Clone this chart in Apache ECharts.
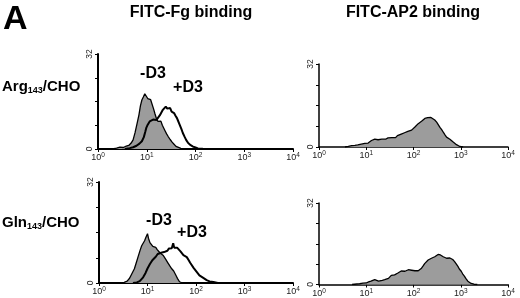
<!DOCTYPE html>
<html><head><meta charset="utf-8">
<script src="https://cdn.jsdelivr.net/npm/echarts@6/dist/echarts.min.js"></script>
<style>html,body{margin:0;padding:0;background:#fff}#c{width:520px;height:298px}</style>
</head><body><div id="c"></div>
<script>
// x values are log10 of fluorescence (decades 10^0..10^4), y values are counts (0..32)
const xTicks = [0, 1, 2, 3, 4];
const yTickLabels = [0, 32];
const panelTitles = ['FITC-Fg binding', 'FITC-AP2 binding'];
const rowLabels = [['Arg', '143', '/CHO'], ['Gln', '143', '/CHO']];

const argFgMinus = [[0.30,0],[0.38,0.3],[0.45,0.6],[0.52,0.5],[0.58,1.0],[0.63,1.2],[0.68,2.0],[0.72,3.1],[0.76,5.5],[0.80,8.5],[0.84,11.5],[0.87,14.5],[0.90,16.5],[0.93,17.5],[0.96,18.6],[0.99,18.2],[1.02,17.0],[1.05,17.4],[1.08,16.6],[1.11,16.0],[1.14,13.5],[1.17,11.8],[1.20,10.2],[1.23,9.3],[1.26,9.6],[1.29,9.4],[1.32,8.0],[1.35,7.0],[1.38,6.0],[1.41,5.0],[1.44,4.2],[1.48,3.2],[1.52,2.3],[1.56,1.6],[1.60,0.9],[1.64,0.5],[1.70,0.2],[1.78,0]];
const argFgPlus = [[0.55,0],[0.65,0.3],[0.72,0.6],[0.79,1.1],[0.85,1.8],[0.90,2.6],[0.94,4.0],[0.97,5.8],[0.99,7.1],[1.02,8.2],[1.06,9.3],[1.09,9.0],[1.13,9.9],[1.17,10.2],[1.20,9.8],[1.23,10.4],[1.27,11.4],[1.30,11.8],[1.33,13.2],[1.36,13.8],[1.39,14.3],[1.42,13.6],[1.45,13.2],[1.48,13.8],[1.51,12.6],[1.53,13.0],[1.56,12.1],[1.59,11.2],[1.62,10.4],[1.64,9.6],[1.67,8.4],[1.71,6.8],[1.74,5.4],[1.78,4.0],[1.81,3.0],[1.85,2.0],[1.90,1.3],[1.95,0.8],[2.00,0.5],[2.05,0.2],[2.15,0.1],[2.3,0]];
const glnFgMinus = [[0.45,0],[0.52,0.2],[0.58,0.6],[0.63,1.5],[0.68,3.0],[0.73,4.5],[0.77,6.5],[0.81,8.5],[0.85,10.5],[0.88,11.8],[0.91,12.6],[0.94,13.4],[0.97,14.6],[1.00,15.6],[1.02,14.2],[1.05,12.8],[1.08,13.2],[1.11,11.6],[1.14,11.0],[1.17,11.3],[1.20,10.6],[1.23,10.0],[1.26,9.5],[1.29,9.2],[1.32,8.8],[1.35,8.2],[1.38,7.4],[1.42,6.4],[1.46,5.4],[1.50,4.5],[1.54,3.8],[1.58,2.6],[1.62,1.4],[1.66,0.4],[1.72,0]];
const glnFgPlus = [[0.70,0],[0.78,0.2],[0.84,0.6],[0.91,1.8],[0.96,3.2],[1.00,4.6],[1.05,6.0],[1.10,7.2],[1.14,7.8],[1.17,8.3],[1.21,9.2],[1.24,9.3],[1.28,9.6],[1.31,9.9],[1.34,9.8],[1.38,10.4],[1.41,10.2],[1.44,10.9],[1.47,10.6],[1.50,11.0],[1.53,12.6],[1.55,11.2],[1.58,11.6],[1.61,11.2],[1.64,10.8],[1.68,10.0],[1.71,9.6],[1.74,8.8],[1.78,8.6],[1.81,8.2],[1.85,7.2],[1.88,6.4],[1.91,5.8],[1.95,4.8],[1.99,4.0],[2.03,3.2],[2.07,2.4],[2.11,2.2],[2.15,1.6],[2.19,1.4],[2.22,0.9],[2.28,0.5],[2.36,0.3],[2.45,0]];
const argAp2 = [[0.55,0],[0.62,0.2],[0.69,0.5],[0.76,0.6],[0.82,0.8],[0.86,0.9],[0.92,1.2],[0.97,1.4],[1.00,1.6],[1.04,1.5],[1.08,2.2],[1.11,2.5],[1.15,2.4],[1.18,3.0],[1.21,3.1],[1.25,2.8],[1.29,3.3],[1.33,3.0],[1.37,3.2],[1.41,3.0],[1.46,3.5],[1.50,3.3],[1.54,3.6],[1.58,3.9],[1.62,3.6],[1.66,4.4],[1.70,4.3],[1.74,5.0],[1.78,4.6],[1.81,5.5],[1.85,5.3],[1.88,6.0],[1.92,5.8],[1.96,6.5],[2.00,6.9],[2.03,7.7],[2.07,8.4],[2.10,9.0],[2.14,9.4],[2.17,9.9],[2.21,10.3],[2.24,11.0],[2.27,11.5],[2.30,11.3],[2.34,11.9],[2.37,11.4],[2.41,11.1],[2.45,10.4],[2.49,9.6],[2.52,8.9],[2.56,7.6],[2.60,6.6],[2.63,5.7],[2.67,4.6],[2.70,3.8],[2.73,3.5],[2.77,3.0],[2.81,2.4],[2.84,1.9],[2.88,1.3],[2.91,0.9],[2.95,0.5],[2.98,0.2],[3.05,0]];
const glnAp2 = [[0.70,0],[0.80,0.2],[0.86,0.3],[0.93,0.5],[1.00,0.6],[1.05,1.0],[1.10,1.3],[1.14,1.2],[1.18,1.9],[1.22,1.5],[1.26,1.3],[1.30,1.4],[1.34,1.6],[1.39,1.9],[1.43,2.0],[1.47,2.4],[1.50,2.6],[1.53,3.6],[1.57,4.1],[1.60,3.8],[1.63,4.3],[1.67,4.5],[1.71,4.8],[1.74,5.3],[1.78,5.4],[1.82,5.2],[1.85,5.9],[1.89,5.8],[1.93,6.0],[1.96,5.6],[1.99,5.8],[2.03,5.4],[2.07,5.6],[2.10,5.4],[2.14,5.9],[2.17,6.4],[2.20,7.2],[2.24,8.3],[2.27,8.9],[2.31,9.6],[2.34,10.0],[2.38,10.3],[2.42,10.6],[2.45,10.9],[2.49,11.5],[2.52,11.8],[2.54,12.2],[2.57,11.6],[2.60,11.8],[2.63,10.9],[2.67,10.6],[2.70,10.3],[2.73,10.2],[2.77,10.4],[2.80,10.5],[2.83,9.8],[2.87,9.0],[2.90,8.2],[2.94,7.1],[2.97,6.1],[3.01,5.2],[3.04,4.2],[3.08,3.2],[3.11,2.3],[3.15,1.3],[3.18,0.8],[3.22,0.4],[3.28,0.1],[3.35,0]];

const FONT = 'Liberation Sans, Arial, Helvetica, sans-serif';
const chart = echarts.init(document.getElementById('c'), null, {renderer: 'canvas'});

const grids = [
  {left: 98, top: 54, width: 195, height: 95},
  {left: 319, top: 64, width: 189, height: 83},
  {left: 99, top: 182, width: 194, height: 101},
  {left: 319, top: 203, width: 189, height: 84}
];

function xAxis(i, lw) {
  return {
    gridIndex: i, type: 'value', min: xTicks[0], max: xTicks[xTicks.length - 1], interval: 1,
    axisLine: {lineStyle: {color: '#000', width: lw}},
    axisTick: {length: 3, lineStyle: {color: '#000', width: 1}},
    splitLine: {show: false},
    axisLabel: {
      margin: 3,
      formatter: v => '{b|10}{s|' + v + '}',
      rich: {
        b: {fontSize: 9, color: '#222', fontFamily: FONT},
        s: {fontSize: 6.5, color: '#222', fontFamily: FONT, padding: [0, 0, 5, 0]}
      }
    }
  };
}
function yAxis(i, lw) {
  return {
    gridIndex: i, type: 'value', min: 0, max: 32, interval: 8,
    axisLine: {show: true, lineStyle: {color: '#000', width: lw}},
    axisTick: {show: true, length: 3, lineStyle: {color: '#000', width: 1}},
    splitLine: {show: false},
    axisLabel: {
      rotate: 90, margin: 4, fontSize: 8.5, color: '#222', fontFamily: FONT,
      formatter: v => (yTickLabels.indexOf(v) >= 0 ? String(v) : '')
    }
  };
}

function filled(data, i) {
  return {type: 'line', xAxisIndex: i, yAxisIndex: i, data: data, showSymbol: false, symbol: 'none',
    lineStyle: {color: '#000', width: 1.3}, areaStyle: {color: '#9c9c9c', opacity: 1}, z: 2, silent: true};
}
function outline(data, i) {
  return {type: 'line', xAxisIndex: i, yAxisIndex: i, data: data, showSymbol: false, symbol: 'none',
    lineStyle: {color: '#000', width: 2}, z: 3, silent: true};
}

const bold = (s) => ({font: 'bold ' + s + 'px ' + FONT, fill: '#000'});
function rowLabel(parts, y) {
  return {type: 'text', left: 2, top: y, style: {
    text: '{b|' + parts[0] + '}{s|' + parts[1] + '}{b|' + parts[2] + '}',
    rich: {
      b: {fontSize: 15, fontWeight: 'bold', fontFamily: FONT, fill: '#000', lineHeight: 18},
      s: {fontSize: 9, fontWeight: 'bold', fontFamily: FONT, fill: '#000', padding: [8, 0, 0, 0]}
    }
  }};
}

chart.setOption({
  animation: false,
  backgroundColor: '#fff',
  grid: grids,
  xAxis: [xAxis(0, 2), xAxis(1, 1.5), xAxis(2, 2), xAxis(3, 1.5)],
  yAxis: [yAxis(0, 2), yAxis(1, 1.5), yAxis(2, 2), yAxis(3, 1.5)],
  series: [
    filled(argFgMinus, 0), outline(argFgPlus, 0),
    filled(argAp2, 1),
    filled(glnFgMinus, 2), outline(glnFgPlus, 2),
    filled(glnAp2, 3)
  ],
  graphic: [
    {type: 'text', left: 3, top: 3, style: Object.assign(bold(34), {text: 'A'})},
    {type: 'text', x: 191, y: 13, style: Object.assign(bold(16), {text: panelTitles[0], textAlign: 'center', textVerticalAlign: 'middle'})},
    {type: 'text', x: 413, y: 13, style: Object.assign(bold(16), {text: panelTitles[1], textAlign: 'center', textVerticalAlign: 'middle'})},
    rowLabel(rowLabels[0], 79),
    rowLabel(rowLabels[1], 215),
    {type: 'text', x: 153, y: 74, style: Object.assign(bold(16), {text: '-D3', textAlign: 'center', textVerticalAlign: 'middle'})},
    {type: 'text', x: 188, y: 88, style: Object.assign(bold(16), {text: '+D3', textAlign: 'center', textVerticalAlign: 'middle'})},
    {type: 'text', x: 159, y: 221, style: Object.assign(bold(16), {text: '-D3', textAlign: 'center', textVerticalAlign: 'middle'})},
    {type: 'text', x: 192, y: 233, style: Object.assign(bold(16), {text: '+D3', textAlign: 'center', textVerticalAlign: 'middle'})}
  ]
});
</script></body></html>
